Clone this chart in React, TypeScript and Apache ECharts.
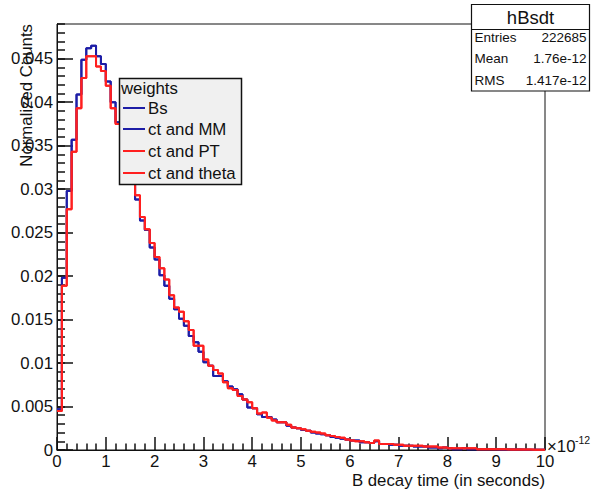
import React, { useEffect, useRef } from "react";
import * as echarts from "echarts";

// Histogram binning: 100 bins of 0.1 ps between 0 and 10 ps
const binWidth = 0.1;
const timeMin = 0;
const timeMax = 10;

// Normalized counts per bin, one array per weighting
const bsWeights = [
  0.0047, 0.0198, 0.0298, 0.0357, 0.0409, 0.0449, 0.0462, 0.0465, 0.0453, 0.0444,
  0.0424, 0.0400, 0.0377, 0.0356, 0.0336, 0.0312, 0.0288, 0.0264, 0.0253, 0.0233,
  0.0219, 0.0201, 0.0189, 0.0174, 0.0162, 0.0151, 0.0143, 0.0131, 0.0124, 0.0113,
  0.0101, 0.0097, 0.0085, 0.0085, 0.0079, 0.0073, 0.0070, 0.0064, 0.0058, 0.0049,
  0.0048, 0.0041, 0.0038, 0.0038, 0.0035, 0.0032, 0.0032, 0.0028, 0.0026, 0.0025,
  0.0023, 0.0022, 0.0020, 0.0019, 0.0018, 0.0017, 0.0015, 0.0014, 0.0013, 0.0012,
  0.0011, 0.0011, 0.0009, 0.0009, 0.0008, 0.0010, 0.0007, 0.0007, 0.0006, 0.0006,
  0.0005, 0.0005, 0.0005, 0.0004, 0.0004, 0.0004, 0.0003, 0.0003, 0.0002, 0.0003,
  0.0002, 0.0001, 0.0001, 0.0002, 0.0001, 0.0001, 0.0001, 0.0001, 0.00008, 0.00008,
  0.00007, 0.00006, 0.00006, 0.00005, 0.00005, 0.00004, 0.00004, 0.00003, 0.00003, 0.00003,
];

const ctMMWeights = [
  0.0047, 0.0198, 0.0298, 0.0357, 0.0409, 0.0449, 0.0462, 0.0465, 0.0453, 0.0444,
  0.0424, 0.0400, 0.0377, 0.0356, 0.0336, 0.0312, 0.0288, 0.0264, 0.0253, 0.0233,
  0.0219, 0.0201, 0.0189, 0.0174, 0.0162, 0.0151, 0.0143, 0.0131, 0.0124, 0.0113,
  0.0101, 0.0097, 0.0085, 0.0085, 0.0079, 0.0073, 0.0070, 0.0064, 0.0058, 0.0049,
  0.0048, 0.0041, 0.0038, 0.0038, 0.0035, 0.0032, 0.0032, 0.0028, 0.0026, 0.0025,
  0.0023, 0.0022, 0.0020, 0.0019, 0.0018, 0.0017, 0.0015, 0.0014, 0.0013, 0.0012,
  0.0011, 0.0011, 0.0009, 0.0009, 0.0008, 0.0010, 0.0007, 0.0007, 0.0006, 0.0006,
  0.0005, 0.0005, 0.0005, 0.0004, 0.0004, 0.0004, 0.0003, 0.0003, 0.0002, 0.0003,
  0.0002, 0.0001, 0.0001, 0.0002, 0.0001, 0.0001, 0.0001, 0.0001, 0.00008, 0.00008,
  0.00007, 0.00006, 0.00006, 0.00005, 0.00005, 0.00004, 0.00004, 0.00003, 0.00003, 0.00003,
];

const ctPTWeights = [
  0.0045, 0.0189, 0.0277, 0.0343, 0.0393, 0.0428, 0.0453, 0.0453, 0.0441, 0.0436,
  0.0419, 0.0393, 0.0375, 0.0358, 0.0338, 0.0316, 0.0293, 0.0268, 0.0254, 0.0238,
  0.0222, 0.0209, 0.0196, 0.0178, 0.0164, 0.0159, 0.0148, 0.0138, 0.0120, 0.0120,
  0.0104, 0.0097, 0.0092, 0.0088, 0.0078, 0.0071, 0.0069, 0.0062, 0.0058, 0.0055,
  0.0048, 0.0042, 0.0043, 0.0037, 0.0034, 0.0032, 0.0032, 0.0029, 0.0026, 0.0025,
  0.0024, 0.0022, 0.0021, 0.0020, 0.0019, 0.0017, 0.0016, 0.0015, 0.0014, 0.0012,
  0.0011, 0.0010, 0.0010, 0.0009, 0.0008, 0.0011, 0.0007, 0.0007, 0.0007, 0.0006,
  0.0006, 0.0005, 0.0005, 0.0005, 0.0005, 0.0004, 0.0004, 0.0004, 0.0003, 0.0003,
  0.0002, 0.0002, 0.0002, 0.0002, 0.0002, 0.0002, 0.0001, 0.00012, 0.0001, 0.0001,
  0.00008, 0.00008, 0.00007, 0.00006, 0.00006, 0.00005, 0.00005, 0.00004, 0.00004, 0.00003,
];

const ctThetaWeights = [
  0.0045, 0.0189, 0.0277, 0.0343, 0.0393, 0.0428, 0.0453, 0.0453, 0.0441, 0.0436,
  0.0419, 0.0393, 0.0375, 0.0358, 0.0338, 0.0316, 0.0293, 0.0268, 0.0254, 0.0238,
  0.0222, 0.0209, 0.0196, 0.0178, 0.0164, 0.0159, 0.0148, 0.0138, 0.0120, 0.0120,
  0.0104, 0.0097, 0.0092, 0.0088, 0.0078, 0.0071, 0.0069, 0.0062, 0.0058, 0.0055,
  0.0048, 0.0042, 0.0043, 0.0037, 0.0034, 0.0032, 0.0032, 0.0029, 0.0026, 0.0025,
  0.0024, 0.0022, 0.0021, 0.0020, 0.0019, 0.0017, 0.0016, 0.0015, 0.0014, 0.0012,
  0.0011, 0.0010, 0.0010, 0.0009, 0.0008, 0.0011, 0.0007, 0.0007, 0.0007, 0.0006,
  0.0006, 0.0005, 0.0005, 0.0005, 0.0005, 0.0004, 0.0004, 0.0004, 0.0003, 0.0003,
  0.0002, 0.0002, 0.0002, 0.0002, 0.0002, 0.0002, 0.0001, 0.00012, 0.0001, 0.0001,
  0.00008, 0.00008, 0.00007, 0.00006, 0.00006, 0.00005, 0.00005, 0.00004, 0.00004, 0.00003,
];

const seriesNames = ["Bs", "ct and MM", "ct and PT", "ct and theta"];
const seriesValues = [bsWeights, ctMMWeights, ctPTWeights, ctThetaWeights];
const seriesColors = ["#1d1da6", "#1d1da6", "#ff1f1f", "#ff1f1f"];

const legendTitle = "weights";
const histName = "hBsdt";
const statsLabels = ["Entries", "Mean", "RMS"];
const statsValues = ["222685", "1.76e-12", "1.417e-12"];

const xTitle = "B decay time (in seconds)";
const yTitle = "Normalized Counts";
const yMax = 0.049;
const yMajor = 0.005;
const yMinor = 0.001;

const FONT = "Liberation Sans, Arial, Helvetica, sans-serif";
const MAIN_SIZE = 16.8;

// Turn per-bin values into step outline points (left edge of each bin + closing edge)
function toSteps(values: number[]): number[][] {
  const pts = values.map((v, i) => [Number((timeMin + i * binWidth).toFixed(2)), v]);
  pts.push([timeMax, values[values.length - 1]]);
  return pts;
}

function text(x: number, y: number, str: string, size: number, align = "left", vAlign = "middle", extra: any = {}) {
  return {
    type: "text",
    x,
    y,
    z: 100,
    ...extra,
    style: {
      text: str,
      fill: "#111",
      font: `${size}px ${FONT}`,
      fontSize: size,
      fontFamily: FONT,
      align,
      verticalAlign: vAlign,
      textAlign: align,
      textVerticalAlign: vAlign,
    },
  };
}

export default function App() {
  const ref = useRef<HTMLDivElement>(null);

  useEffect(() => {
    if (!ref.current) return;
    const chart = echarts.init(ref.current, undefined, { renderer: "svg" });

    const legendX = 119;
    const legendY = 78;
    const legendRows = [108, 129, 151, 173];

    const statsX = 471.5;
    const statsY = 4.5;
    const statsW = 118;
    const statsH = 86.5;
    const statsRowY = [37, 58.5, 80];

    const graphic: any[] = [
      // Legend box
      {
        type: "rect",
        z: 90,
        shape: { x: legendX + 0.5, y: legendY + 0.5, width: 122, height: 106 },
        style: { fill: "#f0f0f0", stroke: "#111", lineWidth: 1.5 },
      },
      text(legendX + 2, 88, legendTitle, MAIN_SIZE),
      ...seriesNames.flatMap((name, i) => [
        {
          type: "line",
          z: 100,
          shape: { x1: legendX + 4, y1: legendRows[i], x2: legendX + 26, y2: legendRows[i] },
          style: { stroke: seriesColors[i], lineWidth: 2 },
        },
        text(legendX + 29, legendRows[i], name, MAIN_SIZE),
      ]),
      // Statistics box
      {
        type: "rect",
        z: 90,
        shape: { x: statsX, y: statsY, width: statsW, height: statsH },
        style: { fill: "#ffffff", stroke: "#111", lineWidth: 1.2 },
      },
      {
        type: "line",
        z: 100,
        shape: { x1: statsX, y1: 29.5, x2: statsX + statsW, y2: 29.5 },
        style: { stroke: "#111", lineWidth: 1 },
      },
      text(statsX + statsW / 2, 17, histName, 18.5, "center"),
      ...statsLabels.map((l, i) => text(statsX + 3, statsRowY[i], l, 13.5)),
      ...statsValues.map((v, i) => text(statsX + statsW - 3, statsRowY[i], v, 13.5, "right")),
      // Axis titles and exponent
      text(545, 489, xTitle, MAIN_SIZE, "right", "bottom"),
      text(26, 24, yTitle, MAIN_SIZE, "right", "middle", { rotation: Math.PI / 2 }),
      text(547, 446, "\u00d710", MAIN_SIZE),
      text(575, 440, "-12", 10.5),
    ];

    const option: any = {
      animation: false,
      backgroundColor: "#ffffff",
      grid: {
        left: 57,
        right: 46,
        top: 24,
        bottom: 40,
        show: true,
        borderColor: "#111",
        borderWidth: 1,
        backgroundColor: "transparent",
      },
      xAxis: {
        type: "value",
        min: timeMin,
        max: timeMax,
        interval: 1,
        axisLine: { show: true, onZero: false, lineStyle: { color: "#111", width: 1 } },
        axisTick: { show: true, inside: true, length: 13, lineStyle: { color: "#111", width: 1.5 } },
        minorTick: { show: true, splitNumber: 5, length: 6.5, lineStyle: { color: "#111", width: 1.5 } },
        axisLabel: { color: "#111", fontSize: MAIN_SIZE, fontFamily: FONT, margin: 3 },
        splitLine: { show: false },
        minorSplitLine: { show: false },
      },
      yAxis: [
        {
          type: "value",
          min: 0,
          max: yMax,
          interval: yMajor,
          axisLine: { show: true, lineStyle: { color: "#111", width: 1 } },
          axisTick: { show: true, inside: true, length: 16, lineStyle: { color: "#111", width: 1.5 } },
          axisLabel: {
            color: "#111",
            fontSize: MAIN_SIZE,
            fontFamily: FONT,
            margin: 4,
            showMaxLabel: false,
            formatter: (v: number) => {
              const k = v / yMajor;
              return Math.abs(k - Math.round(k)) < 1e-6 ? String(Number(v.toFixed(4))) : "";
            },
          },
          splitLine: { show: false },
        },
        {
          // minor ticks every 0.001
          type: "value",
          min: 0,
          max: yMax,
          interval: yMinor,
          position: "left",
          offset: 0,
          axisLine: { show: false },
          axisTick: { show: true, inside: true, length: 8, lineStyle: { color: "#111", width: 1.5 } },
          axisLabel: { show: false },
          splitLine: { show: false },
        },
      ],
      series: seriesNames.map((name, i) => ({
        type: "line",
        name,
        data: toSteps(seriesValues[i]),
        step: "end",
        showSymbol: false,
        symbol: "none",
        silent: true,
        clip: true,
        yAxisIndex: 0,
        lineStyle: { color: seriesColors[i], width: 2 },
        itemStyle: { color: seriesColors[i] },
        z: 10 + i,
      })),
      graphic,
    };

    chart.setOption(option);
    return () => chart.dispose();
  }, []);

  return (
    <div
      ref={ref}
      style={{ position: "fixed", left: 0, top: 0, width: 591, height: 490, background: "#fff" }}
    />
  );
}
